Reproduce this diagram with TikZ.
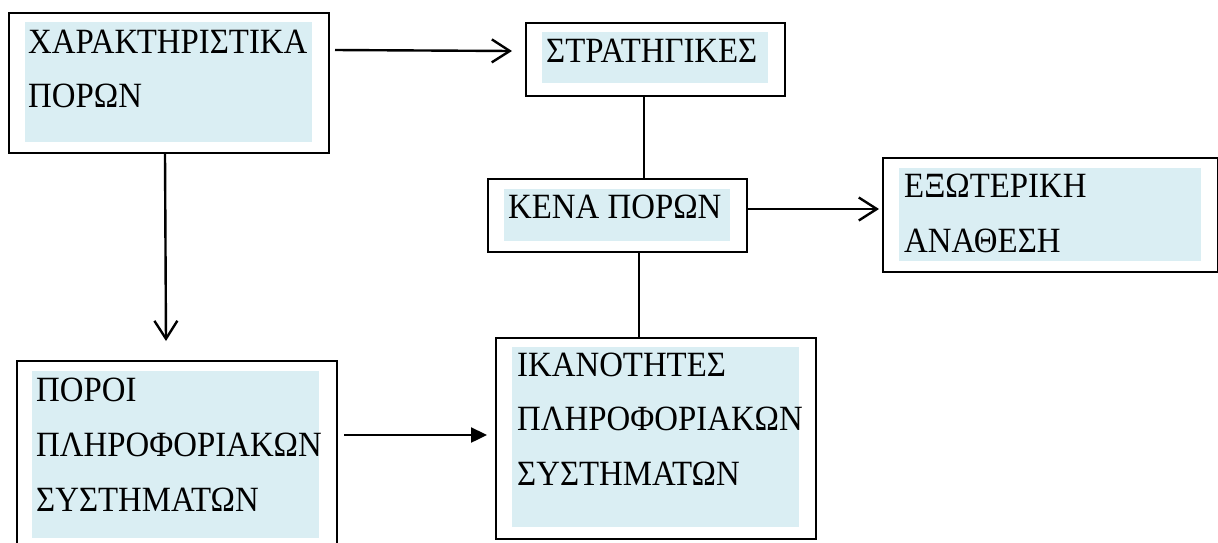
\documentclass[tikz,border=0pt]{standalone}
\usepackage{fontspec}
\usepackage{graphicx}
\setmainfont{Liberation Serif}
\usetikzlibrary{arrows.meta,calc}

\definecolor{panelblue}{HTML}{DAEEF3}

% slightly condensed capitals, as set in the boxes
\newcommand{\boxtext}[1]{\scalebox{0.925}[1]{#1}}

\tikzset{
  frame/.style={draw=black, line width=2pt, fill=white, inner sep=0pt, anchor=north west},
  panel/.style={fill=panelblue, draw=none, inner sep=0pt, anchor=north west},
  label/.style={anchor=base west, inner sep=0pt, font=\fontsize{35.5pt}{54pt}\selectfont},
  openarrow/.style={line width=2.4pt, -{Straight Barb[length=18pt, width=23pt, line width=2.4pt]}},
  solidarrow/.style={line width=2.4pt, -{Triangle[length=16pt, width=15pt]}},
  link/.style={line width=1.7pt},
}

\begin{document}
\begin{tikzpicture}[x=1pt, y=-1pt]
  \clip (0,0) rectangle (1218,542);
  \fill[white] (0,0) rectangle (1218,542);

  % resource characteristics
  \node[frame, minimum width=320pt, minimum height=140pt] (b1) at (8,12) {};
  \node[panel, minimum width=287pt, minimum height=120pt] (p1) at (25,22) {};
  \node[label] (t1a) at (28,53) {\boxtext{ΧΑΡΑΚΤΗΡΙΣΤΙΚΑ}};
  \node[label] (t1b) at (28,107) {\boxtext{ΠΟΡΩΝ}};

  % strategies
  \node[frame, minimum width=259pt, minimum height=73pt] (b2) at (525,22) {};
  \node[panel, minimum width=226pt, minimum height=51pt] (p2) at (542,32) {};
  \node[label] (t2) at (546,62) {\boxtext{ΣΤΡΑΤΗΓΙΚΕΣ}};

  % resource gaps
  \node[frame, minimum width=259pt, minimum height=73pt] (b3) at (487,178) {};
  \node[panel, minimum width=226pt, minimum height=52pt] (p3) at (504,189) {};
  \node[label] (t3) at (508,218) {\boxtext{ΚΕΝΑ ΠΟΡΩΝ}};

  % outsourcing
  \node[frame, minimum width=335pt, minimum height=114pt] (b4) at (882,157) {};
  \node[panel, minimum width=302pt, minimum height=93pt] (p4) at (899,168) {};
  \node[label] (t4a) at (904,197) {\boxtext{ΕΞΩΤΕΡΙΚΗ}};
  \node[label] (t4b) at (904,252) {\boxtext{ΑΝΑΘΕΣΗ}};

  % information systems capabilities
  \node[frame, minimum width=320pt, minimum height=201pt] (b5) at (495,337) {};
  \node[panel, minimum width=287pt, minimum height=180pt] (p5) at (512,347) {};
  \node[label] (t5a) at (517,376) {\boxtext{ΙΚΑΝΟΤΗΤΕΣ}};
  \node[label] (t5b) at (517,430) {\boxtext{ΠΛΗΡΟΦΟΡΙΑΚΩΝ}};
  \node[label] (t5c) at (517,485) {\boxtext{ΣΥΣΤΗΜΑΤΩΝ}};

  % information systems resources
  \node[frame, minimum width=320pt, minimum height=200pt] (b6) at (16,360) {};
  \node[panel, minimum width=287pt, minimum height=167pt] (p6) at (32,371) {};
  \node[label] (t6a) at (36,401) {\boxtext{ΠΟΡΟΙ}};
  \node[label] (t6b) at (36,456) {\boxtext{ΠΛΗΡΟΦΟΡΙΑΚΩΝ}};
  \node[label] (t6c) at (36,511) {\boxtext{ΣΥΣΤΗΜΑΤΩΝ}};

  % connectors
  \draw[openarrow] ($(b1.north east)+(5,38)$) -- ($(b2.north west)+(-13,29)$);
  \draw[openarrow] ($(b1.south west)+(157,0)$) -- ($(b6.north west)+(150,-19)$);
  \draw[link] ($(b2.south west)+(119,0)$) -- ($(b3.north west)+(157,0)$);
  \draw[openarrow] ($(b3.north east)+(0,31)$) -- ($(b4.north west)+(-3,52)$);
  \draw[link] ($(b3.south west)+(152,0)$) -- ($(b5.north west)+(144,0)$);
  \draw[solidarrow] ($(b6.north east)+(6,75)$) -- ($(b5.north west)+(-8,98)$);
\end{tikzpicture}
\end{document}
